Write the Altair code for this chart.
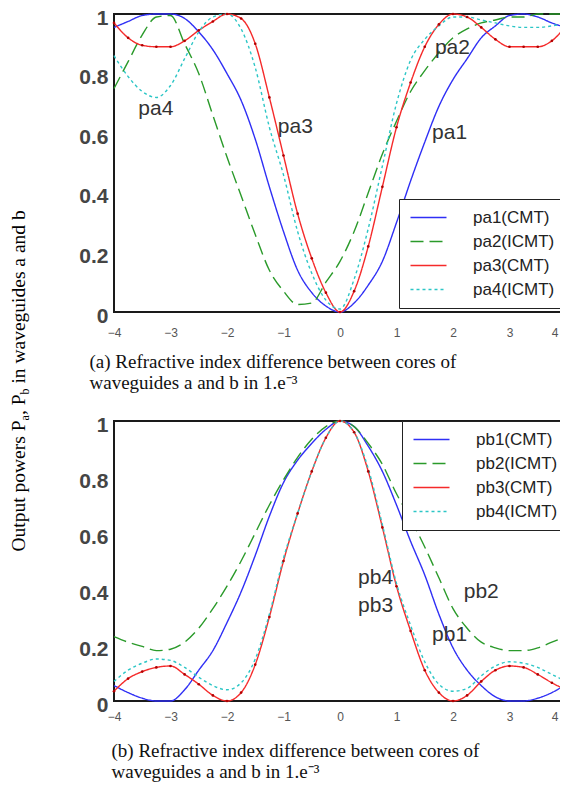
import altair as alt
import pandas as pd

# ---------------- data ----------------
X = [-4.0, -3.75, -3.5, -3.25, -3.0, -2.75, -2.5, -2.25, -2.0, -1.75, -1.5, -1.25,
     -1.0, -0.75, -0.5, -0.25, 0.0, 0.25, 0.5, 0.75, 1.0, 1.25, 1.5, 1.75, 2.0,
     2.25, 2.5, 2.75, 3.0, 3.25, 3.5, 3.75, 4.0]

PA1 = [0.955, 0.975, 0.995, 1.0, 1.0, 0.985, 0.94, 0.88, 0.80, 0.71, 0.58, 0.42, 0.27, 0.14, 0.065, 0.02,
       0.0,
       0.03, 0.09, 0.17, 0.30, 0.44, 0.57, 0.69, 0.78, 0.85, 0.92, 0.96, 0.995, 1.0, 0.99, 0.97, 0.955]
PA2 = [0.75, 0.84, 0.93, 0.99, 0.995, 0.90, 0.80, 0.66, 0.52, 0.39, 0.26, 0.14, 0.07, 0.025, 0.03, 0.10,
       0.17,
       0.27, 0.40, 0.53, 0.64, 0.74, 0.81, 0.87, 0.92, 0.95, 0.97, 0.98, 0.99, 0.99, 1.0, 1.0, 1.0]
PA3 = [0.97, 0.92, 0.895, 0.89, 0.89, 0.91, 0.945, 0.975, 1.0, 0.985, 0.90, 0.72, 0.525, 0.33, 0.18, 0.065,
       0.0,
       0.07, 0.22, 0.42, 0.62, 0.77, 0.89, 0.965, 1.0, 0.99, 0.955, 0.915, 0.89, 0.89, 0.89, 0.91, 0.96]
PA4 = [0.86, 0.79, 0.74, 0.72, 0.76, 0.85, 0.94, 0.99, 1.0, 0.95, 0.82, 0.62, 0.46, 0.27, 0.13, 0.04,
       0.01,
       0.11, 0.28, 0.49, 0.70, 0.845, 0.915, 0.96, 0.99, 0.99, 0.98, 0.97, 0.96, 0.955, 0.955, 0.96, 0.97]

PB1 = [0.055, 0.03, 0.01, 0.0, 0.0, 0.04, 0.11, 0.18, 0.28, 0.39, 0.52, 0.66, 0.78, 0.86, 0.92, 0.97,
       1.0,
       0.98, 0.91, 0.82, 0.70, 0.57, 0.45, 0.31, 0.19, 0.11, 0.055, 0.015, 0.0, 0.0, 0.01, 0.03, 0.06]
PB2 = [0.23, 0.21, 0.195, 0.18, 0.185, 0.21, 0.26, 0.33, 0.41, 0.50, 0.60, 0.70, 0.79, 0.87, 0.935, 0.98,
       1.0,
       0.98, 0.92, 0.845, 0.74, 0.65, 0.55, 0.44, 0.33, 0.26, 0.21, 0.19, 0.18, 0.18, 0.19, 0.21, 0.23]
PB3 = [0.035, 0.08, 0.105, 0.12, 0.125, 0.095, 0.06, 0.02, 0.0, 0.03, 0.13, 0.30, 0.50, 0.67, 0.82, 0.94,
       1.0,
       0.96, 0.82, 0.62, 0.41, 0.25, 0.11, 0.03, 0.0, 0.02, 0.07, 0.11, 0.125, 0.12, 0.095, 0.065, 0.04]
PB4 = [0.07, 0.11, 0.135, 0.15, 0.145, 0.12, 0.085, 0.055, 0.04, 0.065, 0.15, 0.31, 0.51, 0.67, 0.82, 0.94,
       1.0,
       0.96, 0.83, 0.63, 0.42, 0.27, 0.14, 0.06, 0.035, 0.045, 0.09, 0.125, 0.14, 0.135, 0.12, 0.095, 0.07]

SERIES_A = ["pa1(CMT)", "pa2(ICMT)", "pa3(CMT)", "pa4(ICMT)"]
SERIES_B = ["pb1(CMT)", "pb2(ICMT)", "pb3(CMT)", "pb4(ICMT)"]

LABELS_A_TEXT = ["pa4", "pa3", "pa2", "pa1"]
LABELS_A_X = [-3.26, -0.79, 1.99, 1.94]
LABELS_A_Y = [0.68, 0.62, 0.886, 0.60]
LABELS_B_TEXT = ["pb4", "pb3", "pb2", "pb1"]
LABELS_B_X = [0.63, 0.63, 2.50, 1.94]
LABELS_B_Y = [0.44, 0.34, 0.39, 0.236]

XTICKS = [-4, -3, -2, -1, 0, 1, 2, 3, 4]
YTICKS = [0, 0.2, 0.4, 0.6, 0.8, 1]

CAPTION_A = ["(a) Refractive index difference between cores of", "waveguides a and b in 1.e\u207b\u00b3"]
CAPTION_B = ["(b) Refractive index difference between cores of", "waveguides a and b in 1.e\u207b\u00b3"]

# ---------------- styles ----------------
COLORS = ["#2f2ff5", "#2a9a2a", "#f52a2a", "#2cc6c6"]
DASHES = [[1, 0], [13, 6], [1, 0], [3, 3]]
W = 452


def long_df(names, arrays):
    rows = []
    for n, arr in zip(names, arrays):
        for xv, v in zip(X, arr):
            rows.append({"x": xv, "p": v, "series": n})
    return pd.DataFrame(rows)


def make_legend(lx, ly):
    return alt.Legend(
        orient="none", legendX=lx, legendY=ly, title=None,
        fillColor="white", strokeColor="#222", padding=10,
        symbolType="M-3,0H3", symbolSize=144, symbolStrokeWidth=1.6, symbolOffset=11,
        labelOffset=36, labelFont="Liberation Sans", labelFontSize=17, labelColor="#222",
        rowPadding=6, labelExpr="datum.label + '\u00a0\u00a0\u00a0\u00a0'",
    )


def panel(df, names, lab_text, lab_x, lab_y, caption, height, lx, ly, cap_x, lab_pad, extra=()):
    xenc = alt.X(
        "x:Q",
        scale=alt.Scale(domain=[-4, 4], nice=False, zero=False),
        axis=alt.Axis(
            values=XTICKS, format="d", title=caption, titleX=cap_x, titleY=40,
            titleAlign="left", titleBaseline="top", titleFont="Liberation Serif",
            titleFontSize=19, titleFontWeight="normal", titleColor="#111", titleLineHeight=21,
            labelFlush=False, labelPadding=lab_pad,
            labelAlign=alt.condition("datum.value == 4", alt.value("right"), alt.value("center")),
            labelOffset=alt.condition("datum.value == 4", alt.value(-8), alt.value(0)),
        ),
    )
    yenc = alt.Y(
        "p:Q",
        scale=alt.Scale(domain=[0, 1], nice=False, zero=True),
        axis=alt.Axis(values=YTICKS, format="~g", title=None),
    )
    lines = alt.Chart(df).mark_line(strokeWidth=1.4, interpolate="monotone").encode(
        x=xenc, y=yenc,
        color=alt.Color("series:N", scale=alt.Scale(domain=names, range=COLORS), legend=make_legend(lx, ly)),
        strokeDash=alt.StrokeDash("series:N", scale=alt.Scale(domain=names, range=DASHES), legend=make_legend(lx, ly)),
    )
    pts = alt.Chart(df).transform_filter(alt.datum.series == names[2]).mark_circle(
        size=7, color="#b00000", opacity=1
    ).encode(x="x:Q", y="p:Q")
    labdf = pd.DataFrame({"t": lab_text, "x": lab_x, "p": lab_y})
    texts = alt.Chart(labdf).mark_text(font="Liberation Sans", fontSize=21, color="#333").encode(
        x="x:Q", y="p:Q", text="t:N"
    )
    return alt.layer(lines, pts, texts, *extra).properties(width=W, height=height)


def title_piece(text, x, y, size):
    return alt.Chart(pd.DataFrame({"t": [text]})).mark_text(
        angle=270, align="left", baseline="alphabetic", font="Liberation Serif",
        fontSize=size, color="#000"
    ).encode(x=alt.value(x), y=alt.value(y), text="t:N")


YT_X = -89
ytitle = [
    title_piece("Output powers P", YT_X, 537.5, 19.5),
    title_piece("a", YT_X + 4, 406.4, 12),
    title_piece(", P", YT_X, 401.1, 19.5),
    title_piece("b", YT_X + 4, 380.5, 12),
    title_piece("in waveguides a and  b", YT_X, 369.6, 19.5),
]

top = panel(long_df(SERIES_A, [PA1, PA2, PA3, PA4]), SERIES_A, LABELS_A_TEXT, LABELS_A_X, LABELS_A_Y,
            CAPTION_A, 298, 285, 185, -25, 15, extra=ytitle)
bottom = panel(long_df(SERIES_B, [PB1, PB2, PB3, PB4]), SERIES_B, LABELS_B_TEXT, LABELS_B_X, LABELS_B_Y,
               CAPTION_B, 280, 288, 0, -3, 10)

chart = (
    alt.vconcat(top, bottom, spacing=109, bounds="flush")
    .resolve_scale(color="independent", strokeDash="independent")
    .properties(padding={"top": -2, "bottom": 4, "left": 0, "right": -10})
    .configure_view(stroke="#1a1a1a", strokeWidth=2)
    .configure_axis(grid=False, domain=False, ticks=False, tickSize=0, labelFont="Liberation Sans")
    .configure_axisY(labelFontSize=21, labelFontWeight="bold", labelColor="#454545", labelPadding=6, labelOffset=4)
    .configure_axisX(labelFontSize=12, labelColor="#555")
)

chart.save("out.html", embed_options={"renderer": "svg", "actions": False})
